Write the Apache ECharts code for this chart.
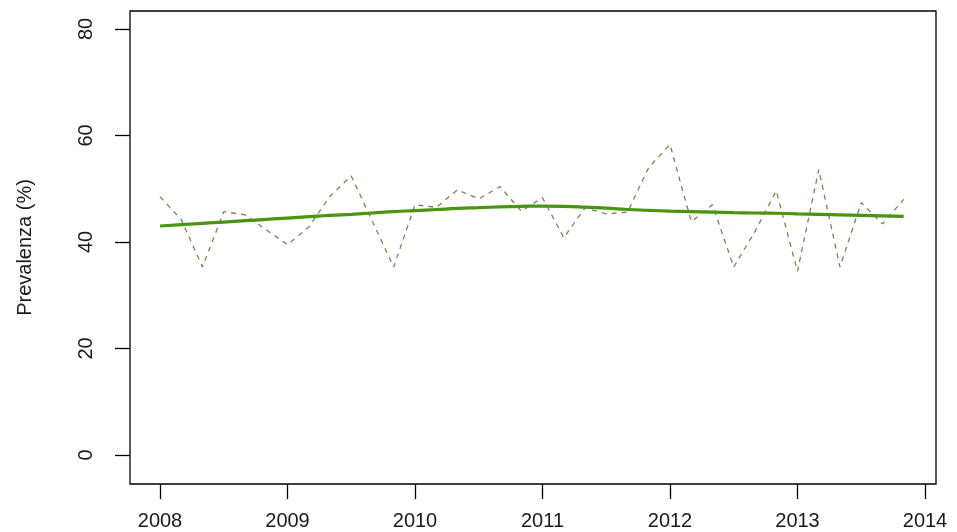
<!DOCTYPE html>
<html>
<head>
<meta charset="utf-8">
<script src="https://cdn.jsdelivr.net/npm/echarts@6/dist/echarts.min.js"></script>
<style>html,body{margin:0;padding:0;background:#fff}#c{width:957px;height:532px}</style>
</head>
<body>
<div id="c"></div>
<script>
// bimonthly time points (decimal years)
const periods = [2008.000,2008.167,2008.333,2008.500,2008.667,2008.833,
                 2009.000,2009.167,2009.333,2009.500,2009.667,2009.833,
                 2010.000,2010.167,2010.333,2010.500,2010.667,2010.833,
                 2011.000,2011.167,2011.333,2011.500,2011.667,2011.833,
                 2012.000,2012.167,2012.333,2012.500,2012.667,2012.833,
                 2013.000,2013.167,2013.333,2013.500,2013.667,2013.833];
// observed prevalence (dashed)
const observed = [48.5,44.2,35.3,45.7,45.1,42.3,
                  39.5,42.8,48.6,52.4,43.8,35.3,
                  47.0,46.5,49.8,48.1,50.4,45.8,
                  48.3,40.8,46.4,45.3,45.6,54.0,
                  58.3,43.8,47.0,35.3,42.0,49.6,
                  34.5,53.6,35.3,47.4,43.4,48.0];
// smoothed trend (solid)
const trend = [43.0,43.25,43.5,43.75,44.0,44.25,
               44.5,44.75,45.0,45.2,45.45,45.7,
               45.9,46.1,46.3,46.45,46.6,46.7,
               46.75,46.7,46.55,46.35,46.1,45.95,
               45.8,45.7,45.6,45.5,45.45,45.4,
               45.3,45.2,45.1,45.0,44.9,44.8];
const xTicks = [2008,2009,2010,2011,2012,2013,2014];
const yTicks = [0,20,40,60,80];
const yTitle = 'Prevalenza (%)';

const FONT = 'Liberation Sans, Arial, sans-serif';
const chart = echarts.init(document.getElementById('c'), null, {renderer:'canvas'});
const hidden = () => ({axisLine:{show:false},axisTick:{show:false},axisLabel:{show:false},splitLine:{show:false}});
chart.setOption({
  animation:false,
  backgroundColor:'#fff',
  grid:[
    {left:130, top:11, width:806, height:473, show:true, borderColor:'#000', borderWidth:1.3, backgroundColor:'transparent'},
    {left:160, top:483, width:765, height:1},
    {left:130, top:29, width:1, height:426}
  ],
  xAxis:[
    Object.assign({type:'value', gridIndex:0, min:2007.7647, max:2014.0863}, hidden()),
    {type:'value', gridIndex:1, position:'bottom', min:xTicks[0], max:xTicks[xTicks.length-1], interval:1,
     axisLine:{show:false}, splitLine:{show:false},
     axisTick:{show:true, inside:false, length:15, lineStyle:{color:'#000', width:1.3}},
     axisLabel:{show:true, margin:27, fontSize:20, color:'#1a1a1a', fontFamily:FONT, formatter:v=>String(v)}},
    Object.assign({type:'value', gridIndex:2, min:0, max:1}, hidden())
  ],
  yAxis:[
    Object.assign({type:'value', gridIndex:0, min:-5.446, max:83.38,
      name:yTitle, nameLocation:'middle', nameGap:95, nameRotate:90,
      nameTextStyle:{fontSize:20, color:'#1a1a1a', fontFamily:FONT}}, hidden()),
    Object.assign({type:'value', gridIndex:1, min:0, max:1}, hidden()),
    {type:'value', gridIndex:2, position:'left', min:yTicks[0], max:yTicks[yTicks.length-1], interval:20,
     axisLine:{show:false}, splitLine:{show:false},
     axisTick:{show:true, inside:false, length:15, lineStyle:{color:'#000', width:1.3}},
     axisLabel:{show:true, margin:34, rotate:90, fontSize:20, color:'#1a1a1a', fontFamily:FONT}}
  ],
  series:[
    {type:'line', xAxisIndex:0, yAxisIndex:0, showSymbol:false, symbol:'none',
     data: periods.map((p,i)=>[p, observed[i]]),
     lineStyle:{color:'#6e8a55', width:1.3, type:[5,5]}},
    {type:'line', xAxisIndex:0, yAxisIndex:0, showSymbol:false, symbol:'none', smooth:true,
     data: periods.map((p,i)=>[p, trend[i]]),
     lineStyle:{color:'#4a9410', width:3.2}}
  ]
});
</script>
</body>
</html>
